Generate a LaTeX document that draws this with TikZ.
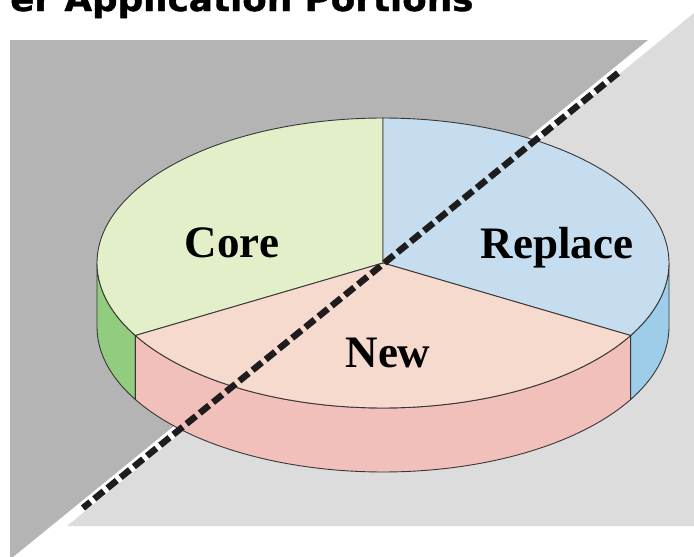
\documentclass[tikz,border=0pt]{standalone}
\usepackage{fontspec}
\setmainfont{Liberation Serif}
\newfontface\titlefont[FakeBold=1.2]{DejaVu Sans Bold}
\definecolor{darkbg}{RGB}{180,180,180}
\definecolor{lightbg}{RGB}{220,220,220}
\definecolor{coretop}{RGB}{227,239,201}
\definecolor{coreside}{RGB}{146,204,126}
\definecolor{reptop}{RGB}{197,221,238}
\definecolor{repside}{RGB}{157,205,232}
\definecolor{newtop}{RGB}{247,218,206}
\definecolor{newside}{RGB}{242,192,187}
\definecolor{edge}{RGB}{55,55,55}
\definecolor{dash}{RGB}{30,28,28}
\tikzset{
  pieline/.style={draw=edge, line width=0.9pt},
  label/.style={font=\fontsize{45}{54}\selectfont\bfseries, anchor=base},
  dashline/.style={draw=dash, line width=6.5pt, dash pattern=on 12pt off 5pt},
}
\begin{document}
\begin{tikzpicture}[x=1pt,y=-1pt,line join=round]
\useasboundingbox (0,0) rectangle (694,557);
\fill[white] (0,0) rectangle (694,557);
\node[anchor=base west, inner sep=0pt, xscale=1.05, font=\titlefont\fontsize{34}{40}\selectfont] (title) at (10,11) {er Application Portions};
\fill[darkbg] (10,40) -- (648,40) -- (13,557) -- (10,557) -- cycle;
\fill[lightbg] (67,526) -- (694,526) -- (694,13) -- cycle;
\def\cx{383}\def\cy{263}\def\ra{286}\def\rb{145}\def\dep{64}
% side walls
\filldraw[pieline, fill=coreside] plot[domain=180:210,samples=20] ({\cx+\ra*cos(\x)},{\cy-\rb*sin(\x)}) -- plot[domain=210:180,samples=20] ({\cx+\ra*cos(\x)},{\cy-\rb*sin(\x)+\dep}) -- cycle;
\filldraw[pieline, fill=newside] plot[domain=210:330,samples=80] ({\cx+\ra*cos(\x)},{\cy-\rb*sin(\x)}) -- plot[domain=330:210,samples=80] ({\cx+\ra*cos(\x)},{\cy-\rb*sin(\x)+\dep}) -- cycle;
\filldraw[pieline, fill=repside] plot[domain=330:360,samples=20] ({\cx+\ra*cos(\x)},{\cy-\rb*sin(\x)}) -- plot[domain=360:330,samples=20] ({\cx+\ra*cos(\x)},{\cy-\rb*sin(\x)+\dep}) -- cycle;
% top sectors
\filldraw[pieline, fill=coretop] (\cx,\cy) -- plot[domain=90:210,samples=80] ({\cx+\ra*cos(\x)},{\cy-\rb*sin(\x)}) -- cycle;
\filldraw[pieline, fill=reptop] (\cx,\cy) -- plot[domain=-30:90,samples=80] ({\cx+\ra*cos(\x)},{\cy-\rb*sin(\x)}) -- cycle;
\filldraw[pieline, fill=newtop] (\cx,\cy) -- plot[domain=210:330,samples=80] ({\cx+\ra*cos(\x)},{\cy-\rb*sin(\x)}) -- cycle;
% labels
\node[label] (core) at (232,257) {Core};
\node[label] (replace) at (557,258) {Replace};
\node[label] (new) at (388,367) {New};
% dashed divider
\coordinate (d1) at (618,73);
\coordinate (d2) at (83,508);
\draw[dashline] (d1) -- (d2);
\end{tikzpicture}
\end{document}
